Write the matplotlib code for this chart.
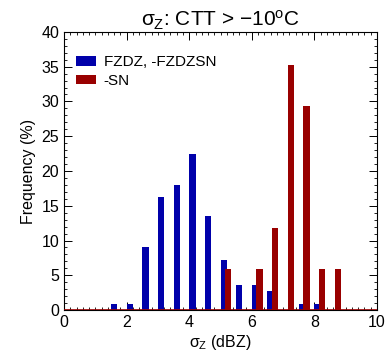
import numpy as np
import matplotlib
matplotlib.use("Agg")
import matplotlib.pyplot as plt
from matplotlib.ticker import MultipleLocator

plt.rcParams['font.family'] = ['Liberation Sans', 'DejaVu Sans']
plt.rcParams['mathtext.fontset'] = 'custom'
plt.rcParams['mathtext.rm'] = 'Liberation Sans'
plt.rcParams['mathtext.it'] = 'Liberation Sans'

# bin starts (dBZ) and frequencies (%)
bins = [1.5, 2.0, 2.5, 3.0, 3.5, 4.0, 4.5, 5.0, 5.5, 6.0, 6.5, 7.0, 7.5, 8.0, 8.5]
fzdz = [0.9, 0.9, 9.0, 16.2, 18.0, 22.5, 13.5, 7.2, 3.6, 3.6, 2.7, 0.0, 0.9, 0.9, 0.0]
sn = [0.0, 0.0, 0.0, 0.0, 0.0, 0.0, 0.0, 5.9, 0.0, 5.9, 11.8, 35.3, 29.4, 5.9, 5.9]

blue = '#0000aa'
red = '#990000'

fig = plt.figure(figsize=(3.91, 3.54), dpi=100)
ax = fig.add_axes([0.164, 0.124, 0.800, 0.786])

x = np.array(bins)
ax.bar(x, fzdz, width=0.2, align='edge', color=blue, label='FZDZ, -FZDZSN', zorder=2)
ax.bar(x + 0.15, sn, width=0.2, align='edge', color=red, label='-SN', zorder=3)
ax.axhline(0, color=red, lw=1.2, zorder=4)

ax.set_xlim(0, 10)
ax.set_ylim(0, 40)
ax.xaxis.set_major_locator(MultipleLocator(2))
ax.xaxis.set_minor_locator(MultipleLocator(0.2))
ax.yaxis.set_major_locator(MultipleLocator(5))
ax.yaxis.set_minor_locator(MultipleLocator(1))
ax.tick_params(which='both', direction='in', top=True, right=True, labelsize=11.5)
ax.tick_params(which='major', length=6, width=0.7)
ax.tick_params(which='minor', length=2.5, width=0.6)
for s in ax.spines.values():
    s.set_linewidth(0.8)

ax.set_xlabel(r'$\sigma_Z$ (dBZ)', fontsize=11.5, labelpad=2)
ax.set_ylabel('Frequency (%)', fontsize=11.5, labelpad=4)
ax.set_title(r'$\sigma_Z$: CTT > $-$10$^{\rm o}$C', fontsize=15, pad=4)

ax.legend(loc='upper left', frameon=False, fontsize=11, handlelength=1.3,
          handleheight=0.6, handletextpad=0.5, labelspacing=0.3,
          borderaxespad=0.4, bbox_to_anchor=(0.0, 0.96))

fig.savefig('out.png', dpi=100)
